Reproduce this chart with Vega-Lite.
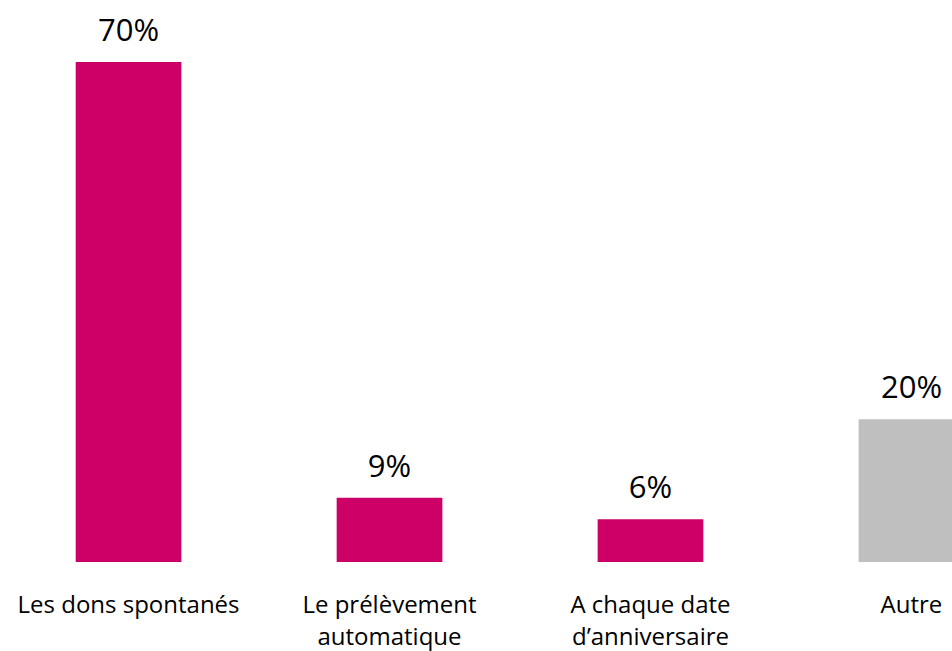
{
  "$schema": "https://vega.github.io/schema/vega-lite/v6.json",
  "autosize": "none",
  "width": 1040,
  "height": 500,
  "padding": {"left": 0, "top": 62, "right": 0, "bottom": 89},
  "background": "white",
  "config": {"view": {"stroke": null}, "font": "Open Sans"},
  "data": {"values": [
    {"cat": "Les dons spontanés", "value": 70, "label": "70%", "type": "a"},
    {"cat": "Le prélèvement|automatique", "value": 9, "label": "9%", "type": "a"},
    {"cat": "A chaque date|d’anniversaire", "value": 6, "label": "6%", "type": "a"},
    {"cat": "Autre", "value": 20, "label": "20%", "type": "b"}
  ]},
  "encoding": {
    "x": {
      "field": "cat", "type": "nominal", "sort": null,
      "scale": {"paddingInner": 0.595, "paddingOuter": 0.29},
      "axis": {
        "title": null, "labelAngle": 0, "domain": false, "ticks": false,
        "labelExpr": "split(datum.value, '|')",
        "labelFontSize": 24, "labelColor": "#000000", "labelPadding": 31,
        "labelLineHeight": 32, "labelBaseline": "top", "labelLimit": 400,
        "labelFont": "Open Sans"
      }
    },
    "y": {
      "field": "value", "type": "quantitative",
      "scale": {"domain": [0, 70], "nice": false},
      "axis": null
    }
  },
  "layer": [
    {
      "mark": {"type": "bar"},
      "encoding": {
        "color": {
          "field": "type", "type": "nominal",
          "scale": {"domain": ["a", "b"], "range": ["#CC0066", "#BFBFBF"]},
          "legend": null
        }
      }
    },
    {
      "mark": {"type": "text", "baseline": "alphabetic", "dy": -21, "fontSize": 31, "color": "#000000", "font": "Open Sans"},
      "encoding": {"text": {"field": "label"}}
    }
  ]
}
